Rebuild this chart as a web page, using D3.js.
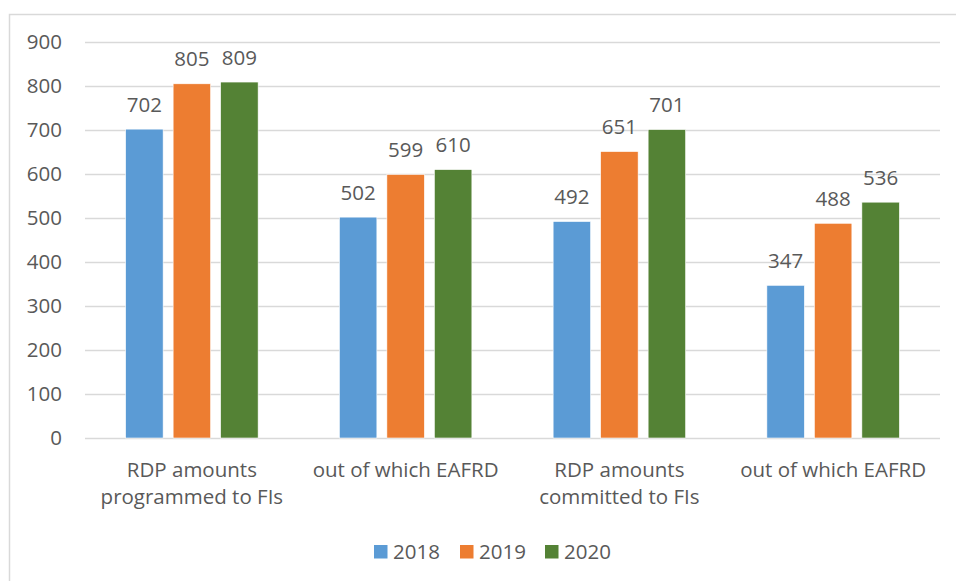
<!DOCTYPE html>
<html><head><meta charset="utf-8">
<script src="https://cdn.jsdelivr.net/npm/d3@7"></script>
<style>
body{margin:0;background:#fff;}
svg text{font-family:"Open Sans",sans-serif;fill:#595959;}
</style></head>
<body><svg id="c" width="956" height="581"></svg>
<script>
const categories = [["RDP amounts","programmed to FIs"],["out of which EAFRD"],["RDP amounts","committed to FIs"],["out of which EAFRD"]];
const series = ["2018","2019","2020"];
const values2018 = [702, 502, 492, 347];
const values2019 = [805, 599, 651, 488];
const values2020 = [809, 610, 701, 536];
const yTicks = [0,100,200,300,400,500,600,700,800,900];
const colors = ["#5B9BD5","#ED7D31","#548235"];

const svg = d3.select("#c");
const W=956,H=581;
svg.append("rect").attr("x",9.5).attr("y",14.5).attr("width",W).attr("height",H).attr("fill","#fff").attr("stroke","#d9d9d9").attr("stroke-width",1.5);

const m={l:85,r:940,t:42,b:438};
const x = d3.scaleBand().domain(d3.range(categories.length)).range([m.l,m.r]);
const y = d3.scaleLinear().domain([0,900]).range([m.b,m.t]);
const groupW = 132.5;
const inner = d3.scaleBand().domain(series).range([0, groupW]).paddingInner(10/47.5).paddingOuter(0);

const fs = 20.5;
// gridlines
svg.append("g").selectAll("line").data(yTicks).join("line")
  .attr("x1",m.l).attr("x2",m.r).attr("y1",d=>Math.round(y(d))+0.5).attr("y2",d=>Math.round(y(d))+0.5)
  .attr("stroke","#d9d9d9").attr("stroke-width",1.3);
// y tick labels
const yAxis = d3.axisLeft(y).tickValues(yTicks).tickSize(0).tickPadding(0);
const ya = svg.append("g").attr("transform",`translate(62,0)`).call(yAxis);
ya.select(".domain").remove();
ya.selectAll("text").attr("font-size",fs).attr("fill","#595959").style("font-family","'Open Sans',sans-serif");

const data = [values2018, values2019, values2020];
series.forEach((s,si)=>{
  const g = svg.append("g");
  data[si].forEach((v,ci)=>{
    const cx = x(ci)+x.bandwidth()/2 - groupW/2 + inner(s);
    const bw = inner.bandwidth();
    g.append("rect").attr("x",cx).attr("y",y(v)).attr("width",bw).attr("height",y(0)-y(v))
      .attr("fill",colors[si]).attr("stroke","#fff").attr("stroke-width",0.6);
    g.append("text").attr("x",cx+bw/2).attr("y",y(v)-17.5).attr("text-anchor","middle").attr("font-size",fs).text(v);
  });
});
// category labels
categories.forEach((lines,ci)=>{
  const t = svg.append("text").attr("x",x(ci)+x.bandwidth()/2).attr("y",477).attr("text-anchor","middle").attr("font-size",fs);
  lines.forEach((l,i)=>t.append("tspan").attr("x",x(ci)+x.bandwidth()/2).attr("dy",i?27:0).text(l));
});
// legend
const legX=[374,460,545];
series.forEach((s,i)=>{
  svg.append("rect").attr("x",legX[i]).attr("y",545).attr("width",13.5).attr("height",13.5).attr("fill",colors[i]);
  svg.append("text").attr("x",legX[i]+19).attr("y",559).attr("font-size",fs).text(s);
});
</script></body></html>
